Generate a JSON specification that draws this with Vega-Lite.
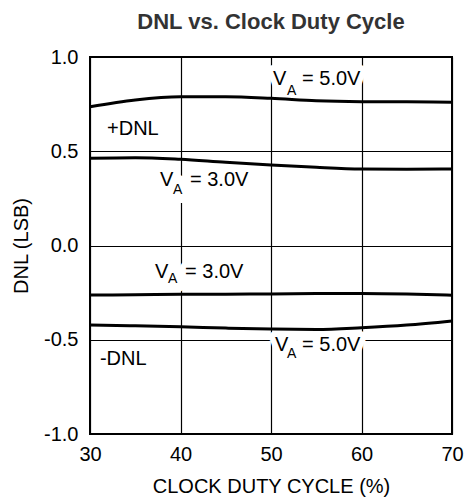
{
  "$schema": "https://vega.github.io/schema/vega-lite/v6.json",
  "width": 362,
  "height": 377,
  "autosize": {"type": "none"},
  "padding": {"left": 90, "top": 57, "right": 13, "bottom": 66},
  "title": {
    "text": "DNL vs. Clock Duty Cycle",
    "font": "Liberation Sans",
    "fontSize": 22,
    "fontWeight": "bold",
    "color": "#333333",
    "offset": 13
  },
  "config": {
    "view": {"stroke": "black", "strokeWidth": 2},
    "font": "Liberation Sans",
    "axis": {
      "grid": true,
      "gridColor": "black",
      "gridOpacity": 1,
      "gridWidth": 1.2,
      "domain": false,
      "ticks": false,
      "labelFont": "Liberation Sans",
      "labelFontSize": 20,
      "labelColor": "black",
      "titleFont": "Liberation Sans",
      "titleFontSize": 20,
      "titleFontWeight": "normal",
      "titleColor": "black"
    }
  },
  "datasets": {
    "curves": [
      {"cycle": 30, "dnl": 0.736, "series": "+DNL 5.0V"},
      {"cycle": 35, "dnl": 0.772, "series": "+DNL 5.0V"},
      {"cycle": 40, "dnl": 0.789, "series": "+DNL 5.0V"},
      {"cycle": 45, "dnl": 0.789, "series": "+DNL 5.0V"},
      {"cycle": 50, "dnl": 0.781, "series": "+DNL 5.0V"},
      {"cycle": 55, "dnl": 0.768, "series": "+DNL 5.0V"},
      {"cycle": 60, "dnl": 0.763, "series": "+DNL 5.0V"},
      {"cycle": 65, "dnl": 0.762, "series": "+DNL 5.0V"},
      {"cycle": 70, "dnl": 0.760, "series": "+DNL 5.0V"},
      {"cycle": 30, "dnl": 0.463, "series": "+DNL 3.0V"},
      {"cycle": 35, "dnl": 0.466, "series": "+DNL 3.0V"},
      {"cycle": 40, "dnl": 0.457, "series": "+DNL 3.0V"},
      {"cycle": 45, "dnl": 0.441, "series": "+DNL 3.0V"},
      {"cycle": 50, "dnl": 0.427, "series": "+DNL 3.0V"},
      {"cycle": 55, "dnl": 0.415, "series": "+DNL 3.0V"},
      {"cycle": 60, "dnl": 0.406, "series": "+DNL 3.0V"},
      {"cycle": 65, "dnl": 0.404, "series": "+DNL 3.0V"},
      {"cycle": 70, "dnl": 0.406, "series": "+DNL 3.0V"},
      {"cycle": 30, "dnl": -0.263, "series": "-DNL 3.0V"},
      {"cycle": 35, "dnl": -0.261, "series": "-DNL 3.0V"},
      {"cycle": 40, "dnl": -0.259, "series": "-DNL 3.0V"},
      {"cycle": 45, "dnl": -0.258, "series": "-DNL 3.0V"},
      {"cycle": 50, "dnl": -0.257, "series": "-DNL 3.0V"},
      {"cycle": 55, "dnl": -0.255, "series": "-DNL 3.0V"},
      {"cycle": 60, "dnl": -0.254, "series": "-DNL 3.0V"},
      {"cycle": 65, "dnl": -0.257, "series": "-DNL 3.0V"},
      {"cycle": 70, "dnl": -0.264, "series": "-DNL 3.0V"},
      {"cycle": 30, "dnl": -0.422, "series": "-DNL 5.0V"},
      {"cycle": 35, "dnl": -0.426, "series": "-DNL 5.0V"},
      {"cycle": 40, "dnl": -0.431, "series": "-DNL 5.0V"},
      {"cycle": 45, "dnl": -0.438, "series": "-DNL 5.0V"},
      {"cycle": 50, "dnl": -0.443, "series": "-DNL 5.0V"},
      {"cycle": 55, "dnl": -0.445, "series": "-DNL 5.0V"},
      {"cycle": 60, "dnl": -0.436, "series": "-DNL 5.0V"},
      {"cycle": 65, "dnl": -0.422, "series": "-DNL 5.0V"},
      {"cycle": 70, "dnl": -0.400, "series": "-DNL 5.0V"}
    ],
    "labels": [
      {"cycle": 50.22, "dnl": 0.851, "text": "V", "role": "main"},
      {"cycle": 51.77, "dnl": 0.798, "text": "A", "role": "sub"},
      {"cycle": 53.43, "dnl": 0.851, "text": "= 5.0V", "role": "main"},
      {"cycle": 37.73, "dnl": 0.316, "text": "V", "role": "main"},
      {"cycle": 39.17, "dnl": 0.273, "text": "A", "role": "sub"},
      {"cycle": 41.05, "dnl": 0.316, "text": "= 3.0V", "role": "main"},
      {"cycle": 37.18, "dnl": -0.173, "text": "V", "role": "main"},
      {"cycle": 38.62, "dnl": -0.199, "text": "A", "role": "sub"},
      {"cycle": 40.5, "dnl": -0.173, "text": "= 3.0V", "role": "main"},
      {"cycle": 50.44, "dnl": -0.560, "text": "V", "role": "main"},
      {"cycle": 51.77, "dnl": -0.597, "text": "A", "role": "sub"},
      {"cycle": 53.43, "dnl": -0.560, "text": "= 5.0V", "role": "main"},
      {"cycle": 31.88, "dnl": 0.586, "text": "+DNL", "role": "main"},
      {"cycle": 31.10, "dnl": -0.634, "text": "-DNL", "role": "main"}
    ]
  },
  "encoding": {
    "x": {
      "field": "cycle", "type": "quantitative",
      "scale": {"domain": [30, 70], "nice": false, "zero": false},
      "axis": {"values": [30, 40, 50, 60, 70], "title": "CLOCK DUTY CYCLE (%)", "labelPadding": 10, "titlePadding": 12, "labelFlush": false}
    },
    "y": {
      "field": "dnl", "type": "quantitative",
      "scale": {"domain": [-1, 1], "nice": false, "zero": false},
      "axis": {"values": [-1, -0.5, 0, 0.5, 1], "labelExpr": "datum.value < 0 ? '-' + format(-datum.value, '.1f') : format(datum.value, '.1f')", "title": "DNL (LSB)", "labelPadding": 12, "titlePadding": 12, "labelFlush": false}
    }
  },
  "layer": [
    {
      "data": {"name": "labels"},
      "transform": [{"filter": "datum.role === 'main'"}],
      "mark": {"type": "text", "align": "left", "baseline": "alphabetic", "fontSize": 20, "stroke": "white", "strokeWidth": 12, "strokeJoin": "round", "fill": "white"},
      "encoding": {"text": {"field": "text"}}
    },
    {
      "data": {"name": "labels"},
      "transform": [{"filter": "datum.role === 'sub'"}],
      "mark": {"type": "text", "align": "left", "baseline": "alphabetic", "fontSize": 14, "stroke": "white", "strokeWidth": 18, "strokeJoin": "round", "fill": "white"},
      "encoding": {"text": {"field": "text"}}
    },
    {
      "data": {"name": "curves"},
      "mark": {"type": "line", "color": "black", "strokeWidth": 3, "interpolate": "monotone"},
      "encoding": {
        "detail": {"field": "series", "type": "nominal"}
      }
    },
    {
      "data": {"name": "labels"},
      "transform": [{"filter": "datum.role === 'main'"}],
      "mark": {"type": "text", "align": "left", "baseline": "alphabetic", "fontSize": 20, "color": "black"},
      "encoding": {"text": {"field": "text"}}
    },
    {
      "data": {"name": "labels"},
      "transform": [{"filter": "datum.role === 'sub'"}],
      "mark": {"type": "text", "align": "left", "baseline": "alphabetic", "fontSize": 14, "color": "black"},
      "encoding": {"text": {"field": "text"}}
    }
  ]
}
